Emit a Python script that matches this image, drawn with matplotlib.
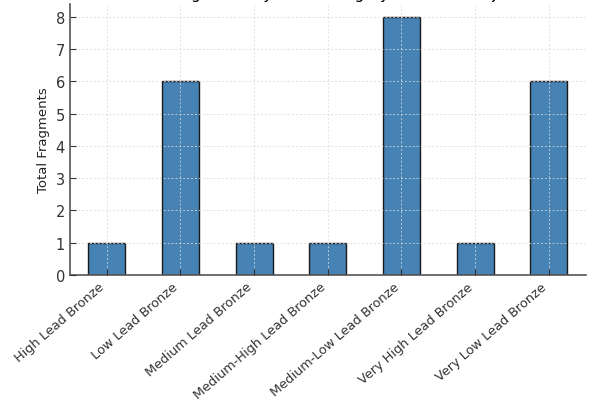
import numpy as np
import matplotlib.pyplot as plt

# Data
categories = ['High Lead Bronze', 'Low Lead Bronze', 'Medium Lead Bronze',
              'Medium-High Lead Bronze', 'Medium-Low Lead Bronze',
              'Very High Lead Bronze', 'Very Low Lead Bronze']
fragments = [1, 6, 1, 1, 8, 1, 6]

fig = plt.figure(figsize=(6.02, 4.10), dpi=100)
ax = fig.add_axes([0.116, 0.327, 0.857, 0.661])

x = np.arange(len(categories))
ax.bar(x, fragments, width=0.5, color='#4682b4', edgecolor='#1a1a1a',
       linewidth=1.0, zorder=2)

ax.set_xlim(-0.5, len(categories) - 0.5)
ax.set_ylim(0, 8.4)
ax.set_xticks(x)
ax.set_xticklabels(categories, rotation=41, ha='right',
                   fontsize=9.3, color='#333333')
ax.set_yticks(range(0, 9))
ax.tick_params(axis='y', labelsize=10.5, labelcolor='#333333')
ax.tick_params(direction='in', length=4, color='#333333')
ax.set_ylabel('Total Fragments', fontsize=9.5, color='#222222')

for side in ['top', 'right']:
    ax.spines[side].set_visible(False)
for side in ['left', 'bottom']:
    ax.spines[side].set_color('#555555')
    ax.spines[side].set_linewidth(1.2)

ax.grid(True, linestyle=(0, (2, 2)), color='#d9d9d9', alpha=0.8, linewidth=0.7, zorder=3)
ax.set_axisbelow(False)

ax.set_title('Total Fragments by Lead Category in Bronze Objects', fontsize=11, pad=4.5)

plt.savefig('out.png', dpi=100)
plt.close()
